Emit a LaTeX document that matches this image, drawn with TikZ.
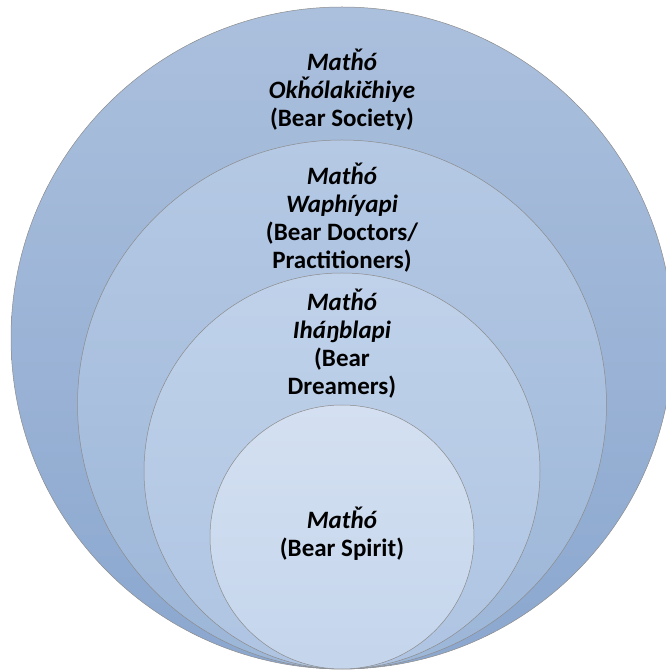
\documentclass[tikz,border=0pt]{standalone}
\usepackage{fontspec}
\setmainfont{Carlito}
\usetikzlibrary{positioning}

\definecolor{ringAtop}{RGB}{171,192,221}
\definecolor{ringAbot}{RGB}{139,167,207}
\definecolor{ringBtop}{RGB}{181,201,228}
\definecolor{ringBbot}{RGB}{156,182,216}
\definecolor{ringCtop}{RGB}{192,210,234}
\definecolor{ringCbot}{RGB}{174,196,226}
\definecolor{ringDtop}{RGB}{212,224,241}
\definecolor{ringDbot}{RGB}{196,213,236}

\begin{document}
\begin{tikzpicture}[
    x=1pt, y=1pt,
    ring/.style={circle, draw=black!45, line width=0.5pt, inner sep=0pt},
    caption/.style={text centered, align=center, font=\fontsize{25}{28}\selectfont\bfseries}
]
    \useasboundingbox (0,0) rectangle (666,670);

    % ========== Rings ==========
    \node (society) [ring, minimum size=662, top color=ringAtop, bottom color=ringAbot] at (342, 332) {};
    \node (doctors) [ring, minimum size=529, top color=ringBtop, bottom color=ringBbot] at (342, 265.5) {};
    \node (dreamers) [ring, minimum size=396, top color=ringCtop, bottom color=ringCbot] at (342, 199) {};
    \node (spirit) [ring, minimum size=264, top color=ringDtop, bottom color=ringDbot] at (342, 133) {};

    % ========== Labels ==========
    \node (society_txt) [caption] at (342, 580.5) {\textit{Matȟó}\\\textit{Okȟólakičhiye}\\(Bear Society)};
    \node (doctors_txt) [caption] at (342, 452.5) {\textit{Matȟó}\\\textit{Waphíyapi}\\(Bear Doctors/\\Practitioners)};
    \node (dreamers_txt) [caption] at (342, 326) {\textit{Matȟó}\\\textit{Iháŋblapi}\\(Bear\\Dreamers)};
    \node (spirit_txt) [caption] at (342, 136) {\textit{Matȟó}\\(Bear Spirit)};
\end{tikzpicture}
\end{document}
